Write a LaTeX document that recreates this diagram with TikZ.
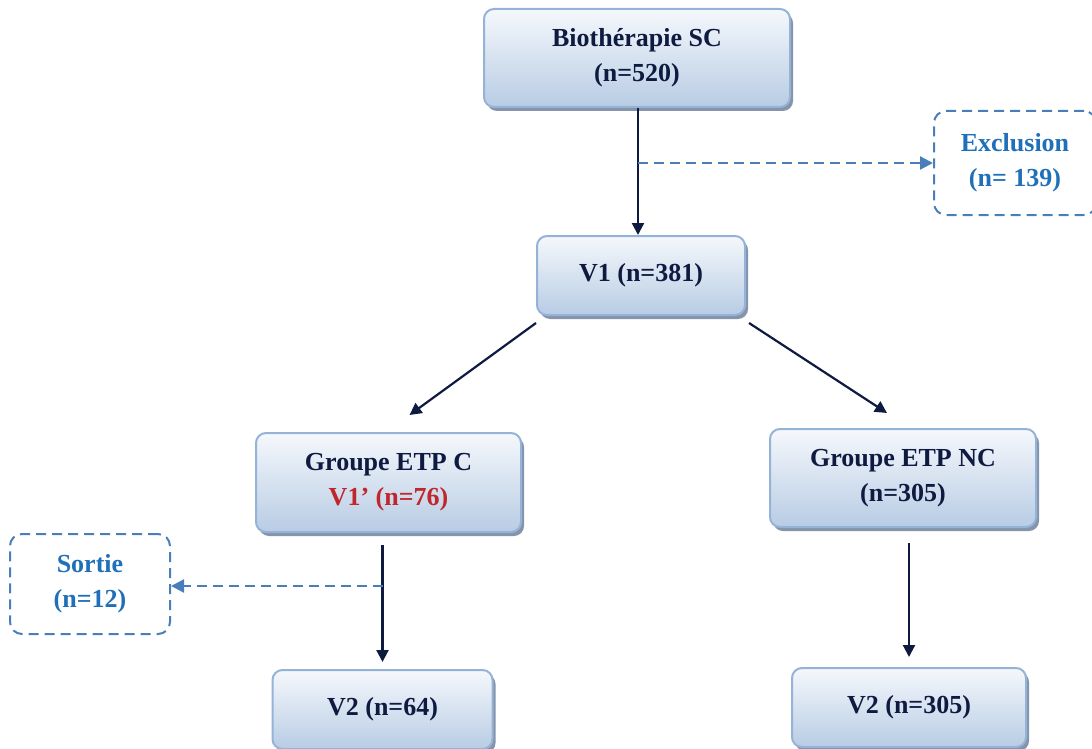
\documentclass[tikz,border=0pt]{standalone}
\usepackage{fontspec}
\setmainfont{Liberation Serif}
\usepackage{tikz}
\usetikzlibrary{positioning}
\usetikzlibrary{arrows.meta}
\usetikzlibrary{shadows}
\usetikzlibrary{calc}
\definecolor{ink}{RGB}{14,26,64}
\definecolor{inkred}{RGB}{192,39,45}
\definecolor{boxline}{RGB}{149,179,215}
\definecolor{boxtop}{RGB}{245,248,252}
\definecolor{boxbottom}{RGB}{184,204,228}
\definecolor{boxshadow}{RGB}{120,136,162}
\definecolor{dashblue}{RGB}{74,126,187}
\definecolor{sideblue}{RGB}{31,112,184}
\tikzset{basic/.style={draw=boxline,line width=2pt,rounded corners=10pt,top color=boxtop,bottom color=boxbottom,text=ink,align=center,font=\bfseries\fontsize{26}{35}\selectfont,drop shadow={shadow xshift=3pt,shadow yshift=-4pt,fill=boxshadow,opacity=0.9}}}
\tikzset{side/.style={draw=dashblue,line width=2pt,dash pattern=on 10pt off 6pt,rounded corners=12pt,text=sideblue,align=center,font=\bfseries\fontsize{26}{35}\selectfont}}
\tikzset{flow/.style={draw=ink,line width=2.2pt,-{Triangle[length=12pt,width=12pt]}}}
\tikzset{skip/.style={draw=dashblue,line width=2.2pt,dash pattern=on 10pt off 6pt,-{Triangle[length=13pt,width=13pt]}}}

\begin{document}
\begin{tikzpicture}[x=1pt,y=-1pt]
                \useasboundingbox (0,0) rectangle (1092,749);
                \node[basic,minimum width=306pt,minimum height=98pt] (bio) at (637,58) {Biothérapie SC\\(n=520)};
                \node[basic,minimum width=208pt,minimum height=79pt,below=127pt of bio,xshift=4pt] (v1) {V1 (n=381)};
                \node[side,minimum width=162pt,minimum height=104pt] (excl) at (1015,163) {Exclusion\\(n= 139)};
                \coordinate (b1) at (638,163);
                    \path[flow] (bio.south -| b1) -- (v1.north -| b1);
                    \path[skip] (b1) -- (excl.west);
                \node[basic,minimum width=265pt,minimum height=99pt,below left=116pt and 14pt of v1] (etpc) {Groupe ETP C\\\textcolor{inkred}{V1’ (n=76)}};
                \node[basic,minimum width=266pt,minimum height=98pt,below right=112pt and 23pt of v1] (etpnc) {Groupe ETP NC\\(n=305)};
                    \path[flow] ($(v1.south west)+(0,7)$) -- ($(etpc.north)+(21,-17)$);
                    \path[flow] ($(v1.south east)+(3,7)$) -- ($(etpnc.north)+(-16,-15)$);
                \node[basic,minimum width=220pt,minimum height=79pt,below=136pt of etpc,xshift=-6pt] (v2c) {V2 (n=64)};
                \node[basic,minimum width=234pt,minimum height=79pt,below=139pt of etpnc,xshift=6pt] (v2nc) {V2 (n=305)};
                \node[side,minimum width=160pt,minimum height=100pt] (sortie) at (90,584) {Sortie\\(n=12)};
                \coordinate (b2) at (383,586);
                    \path[flow] ($(v2c.north |- etpc.south)+(0,12)$) -- ($(v2c.north)+(0,-7)$);
                    \path[skip] (b2) -- (b2 -| sortie.east);
                    \path[flow] ($(v2nc.north |- etpnc.south)+(0,15)$) -- ($(v2nc.north)+(0,-10)$);
            \end{tikzpicture}
\end{document}
